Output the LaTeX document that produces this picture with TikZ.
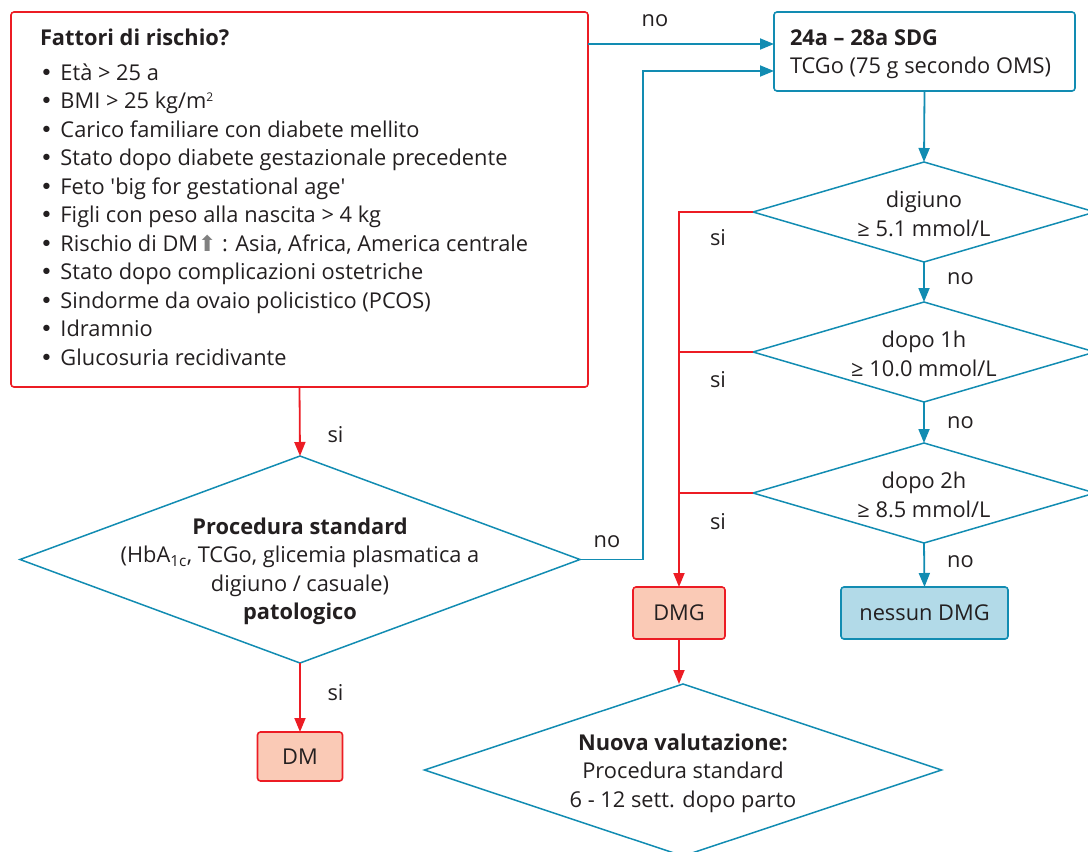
\documentclass[tikz,border=0pt]{standalone}
\usepackage{fontspec}
\setmainfont{Open Sans}
\newfontfamily\symfont{DejaVu Sans}
\usetikzlibrary{arrows.meta,shapes.geometric,calc}
\definecolor{myred}{RGB}{236,28,36}
\definecolor{myteal}{RGB}{18,140,178}
\definecolor{salmon}{RGB}{250,202,182}
\definecolor{lblue}{RGB}{178,218,232}
\definecolor{ink}{RGB}{35,31,32}
\definecolor{arrgray}{RGB}{128,128,128}
\begin{document}
\begin{tikzpicture}[x=1pt,y=-1pt,
  every node/.style={text=ink, font=\fontsize{21.8}{28.5}\selectfont, inner sep=0pt, outer sep=0pt},
  redbox/.style={draw=myred, line width=1.6pt, rounded corners=3pt},
  tealbox/.style={draw=myteal, line width=1.6pt, rounded corners=3pt},
  dia/.style={diamond, draw=myteal, line width=1.5pt},
  tarr/.style={draw=myteal, line width=1.8pt, -{Triangle[length=14pt,width=11pt]}},
  rarr/.style={draw=myred, line width=1.8pt, -{Triangle[length=14pt,width=11pt]}},
  rline/.style={draw=myred, line width=1.8pt},
  item/.style={anchor=base west},
  lbl/.style={}
]
\useasboundingbox (0,0) rectangle (1088,852);

% risk box
\node[redbox, minimum width=577pt, minimum height=375pt] (risk) at (299.5,199.5) {};
\node[item] (rtitle) at (40,45) {\textbf{Fattori di rischio?}};
\foreach \t [count=\i] in {
  {Età > 25 a},
  {BMI > 25 kg/m\raisebox{7pt}{\fontsize{12}{12}\selectfont 2}},
  {Carico familiare con diabete mellito},
  {Stato dopo diabete gestazionale precedente},
  {Feto \textquotesingle big for gestational age\textquotesingle},
  {Figli con peso alla nascita > 4 kg},
  {Rischio di DM{\symfont\color{arrgray}⬆} : Asia, Africa, America centrale},
  {Stato dopo complicazioni ostetriche},
  {Sindorme da ovaio policistico (PCOS)},
  {Idramnio},
  {Glucosuria recidivante}}
  \node[item] (r\i) at (40,{80+28.5*(\i-1)}) {\makebox[20.5pt][l]{\symfont •}\t};

% top right box
\node[tealbox, minimum width=301pt, minimum height=79pt] (sdg) at (924.5,51.5) {};
\node[item] (sdg1) at (790,45) {\textbf{24a – 28a SDG}};
\node[item] (sdg2) at (790,73) {TCGo (75 g secondo OMS)};

% diamonds right
\node[dia, minimum width=342pt, minimum height=100pt] (dig) at (924,212) {};
\node[align=center] (digt) at (924,214) {digiuno\\≥ 5.1 mmol/L};
\node[dia, minimum width=342pt, minimum height=100pt] (d1h) at (924,352) {};
\node[align=center] (d1ht) at (924,354) {dopo 1h\\≥ 10.0 mmol/L};
\node[dia, minimum width=342pt, minimum height=100pt] (d2h) at (924,493) {};
\node[align=center] (d2ht) at (924,495) {dopo 2h\\≥ 8.5 mmol/L};

% result boxes
\node[redbox, fill=salmon, minimum width=92pt, minimum height=52pt] (dmg) at (679,613) {DMG};
\node[tealbox, fill=lblue, minimum width=167pt, minimum height=52pt] (nes) at (924.5,613) {nessun DMG};
\node[redbox, fill=salmon, minimum width=85pt, minimum height=49pt] (dm) at (300,756.5) {DM};

% procedura diamond
\node[dia, minimum width=560pt, minimum height=207pt] (proc) at (300,559.5) {};
\node[align=center] (proct) at (300,571.5) {\textbf{Procedura standard}\\(HbA\textsubscript{1c}, TCGo, glicemia plasmatica a\\digiuno / casuale)\\\textbf{patologico}};

% nuova diamond
\node[dia, minimum width=517pt, minimum height=172pt] (nuova) at (683,770) {};
\node[align=center] (nuovat) at (683,773) {\textbf{Nuova valutazione:}\\Procedura standard\\6 - 12 sett. dopo parto};

% connectors
\coordinate (in1) at (774,44);
\coordinate (in2) at (774,71);
\coordinate (bx) at (643,0);
\draw[tarr] (risk.east |- in1) -- (in1);
\draw[tarr] (proc.east) -- (proc.east -| bx) |- (in2);
\draw[tarr] (sdg.south) -- (dig.north);
\draw[tarr] (dig.south) -- (d1h.north);
\draw[tarr] (d1h.south) -- (d2h.north);
\draw[tarr] (d2h.south) -- (nes.north);
\draw[rarr] (dig.west) -| (dmg.north);
\draw[rline] (d1h.west) -- (d1h.west -| dmg.north);
\draw[rline] (d2h.west) -- (d2h.west -| dmg.north);
\draw[rarr] (dmg.south) -- (dmg.south |- nuova.north);
\draw[rarr] (risk.south) -- (proc.north);
\draw[rarr] (proc.south) -- (dm.north);

% labels
\node[lbl] (l1) at (655,20.5) {no};
\node[lbl] (l2) at (718,238) {si};
\node[lbl] (l3) at (718,380) {si};
\node[lbl] (l4) at (718,521.5) {si};
\node[lbl] (l5) at (960.5,279) {no};
\node[lbl] (l6) at (960.5,422.5) {no};
\node[lbl] (l7) at (960.5,561.5) {no};
\node[lbl] (l8) at (607,541.5) {no};
\node[lbl] (l9) at (335.5,435) {si};
\node[lbl] (l10) at (335.5,693) {si};
\end{tikzpicture}
\end{document}
